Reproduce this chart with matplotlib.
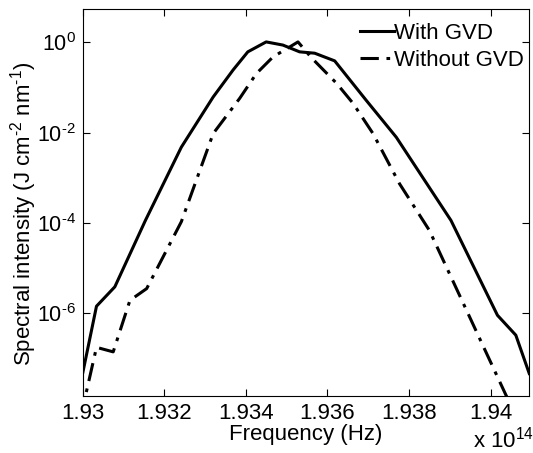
import matplotlib
matplotlib.use("Agg")
import matplotlib.pyplot as plt
import numpy as np

plt.rcParams['font.family'] = ['Liberation Sans', 'DejaVu Sans']
plt.rcParams['mathtext.fontset'] = 'custom'
plt.rcParams['mathtext.rm'] = 'Liberation Sans'

# frequency in units of 1e14 Hz, intensity as log10(J cm^-2 nm^-1)
freq_gvd = [1.93000, 1.93034, 1.93079, 1.93154, 1.93242, 1.93320, 1.93369,
            1.93405, 1.93450, 1.93491, 1.93532, 1.93569, 1.93618, 1.93695,
            1.93769, 1.93801, 1.93903, 1.94017, 1.94062, 1.94095]
logI_gvd = [-7.33, -5.84, -5.41, -3.94, -2.32, -1.21, -0.61,
            -0.21, 0.01, -0.06, -0.21, -0.24, -0.41, -1.28,
            -2.10, -2.54, -3.94, -6.04, -6.48, -7.33]

freq_nogvd = [1.92995, 1.93034, 1.93075, 1.93116, 1.93157, 1.93242, 1.93320,
              1.93385, 1.93426, 1.93467, 1.93508, 1.93528, 1.93562, 1.93623,
              1.93663, 1.93712, 1.93777, 1.93850, 1.94038, 1.94060]
logI_nogvd = [-8.30, -6.75, -6.85, -5.71, -5.45, -3.97, -2.02,
              -1.24, -0.69, -0.32, -0.10, 0.01, -0.35, -0.91,
              -1.35, -2.02, -3.13, -4.16, -7.81, -8.20]

xticks = [1.93, 1.932, 1.934, 1.936, 1.938, 1.94]
ydecades = [0, -2, -4, -6]

fs = 16

fig = plt.figure(figsize=(5.33, 4.53), dpi=100)
ax = fig.add_axes([0.155, 0.1265, 0.838, 0.8535])

ax.semilogy(freq_gvd, 10.0 ** np.array(logI_gvd), color='black', lw=2.2,
            label='With GVD')
ax.semilogy(freq_nogvd, 10.0 ** np.array(logI_nogvd), color='black', lw=2.2,
            dashes=(6, 2.5, 1.2, 2.5), label='Without GVD')

ax.set_xlim(1.93, 1.94095)
ax.set_ylim(10 ** -7.82, 10 ** 0.737)

ax.set_xticks(xticks)
ax.set_xticklabels(['%g' % t for t in xticks])
ax.set_yticks([10.0 ** d for d in ydecades])
ax.set_yticklabels(['$10^{\\text{%d}}$' % d for d in ydecades])
ax.yaxis.set_minor_locator(matplotlib.ticker.NullLocator())
ax.tick_params(direction='in', top=True, right=True, labelsize=fs,
               length=5, width=0.8, pad=5)
ax.tick_params(axis='y', labelsize=15.5)
for s in ax.spines.values():
    s.set_linewidth(0.8)

ax.set_xlabel('Frequency (Hz)', fontsize=fs, labelpad=0)
ax.set_ylabel('Spectral intensity (J cm$^{\\text{-2}}$ nm$^{\\text{-1}}$)',
              fontsize=fs)
ax.yaxis.set_label_coords(-0.098, 0.47)

fig.text(0.887, 0.013, 'x 10$^{14}$', fontsize=fs)

leg = ax.legend(loc='upper right', frameon=False, fontsize=fs,
                handlelength=1.5, handletextpad=0.0, labelspacing=0.25,
                borderaxespad=0.1, bbox_to_anchor=(1.012, 0.992))

fig.savefig('out.png', dpi=100)
